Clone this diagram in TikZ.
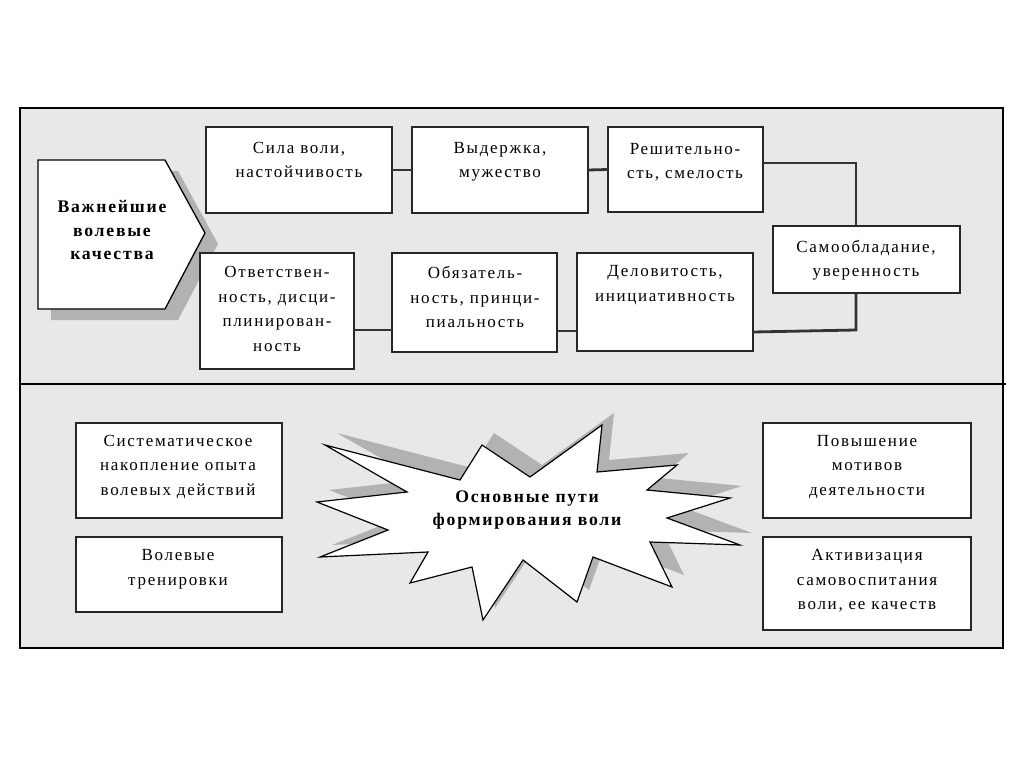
\documentclass[tikz,border=0pt]{standalone}
\usepackage{fontspec}
\setmainfont{Liberation Serif}[LetterSpace=10]
\begin{document}
\begin{tikzpicture}[x=1pt,y=-1pt,
  box/.style={draw=black!85, line width=1.4pt, fill=white, inner sep=0pt, outer sep=0pt},
  txt/.style={align=center, inner sep=0pt, font=\fontsize{17}{24.5}\selectfont},
  btxt/.style={align=center, inner sep=0pt, font=\fontsize{17.7}{23.5}\selectfont\bfseries},
  link/.style={draw=black!80, line width=2.8pt},
  shade/.style={fill=black!30}]
\useasboundingbox (0,0) rectangle (1024,767);
\fill[white] (0,0) rectangle (1024,767);
% panel
\draw[line width=1.6pt, fill=gray!18] (20,108) rectangle (1003,648);
\draw[line width=1.6pt] (20,384) -- (1006,384);

% pentagon arrow
\fill[shade, shift={(13,11)}] (38,160) -- (165,160) -- (205,233) -- (165,309) -- (38,309) -- cycle;
\draw[line width=1.3pt, fill=white] (38,160) -- (165,160) -- (205,233) -- (165,309) -- (38,309) -- cycle;
\node[btxt] (p) at (112,230) {Важнейшие\\волевые\\качества};

% top boxes
\node[box, minimum width=186pt, minimum height=86pt] (s1) at (299,170) {};
\node[box, minimum width=176pt, minimum height=86pt] (s2) at (500,170) {};
\node[box, minimum width=155pt, minimum height=85pt] (s3) at (685.5,169.5) {};
\node[box, minimum width=187pt, minimum height=67pt] (s4) at (866.5,259.5) {};
\node[box, minimum width=176pt, minimum height=98pt] (s5) at (665,302) {};
\node[box, minimum width=165pt, minimum height=99pt] (s6) at (474.5,302.5) {};
\node[box, minimum width=154pt, minimum height=116pt] (s7) at (277,311) {};

\node[txt] (t1) at (299,160) {Сила воли,\\настойчивость};
\node[txt] (t2) at (500,162) {Выдержка,\\мужество};
\node[txt] (t3) at (685,162) {Решительно-\\сть, смелость};
\node[txt] (t4) at (866,260) {Самообладание,\\уверенность};
\node[txt] (t5) at (665,285) {Деловитость,\\инициативность};
\node[txt] (t6) at (475,297) {Обязатель-\\ность, принци-\\пиальность};
\node[txt] (t7) at (277,309) {Ответствен-\\ность, дисци-\\плинирован-\\ность};

% connectors
\draw[link] (s1.east) -- (s2.west);
\draw[link] (s2.east) -- (s3.west);
\coordinate (c1) at (856,163);
\draw[link] ([yshift=6.5pt]s3.east) -- (c1) -- ([xshift=-10.5pt]s4.north);
\coordinate (c2) at (856,330);
\draw[link] ([xshift=-10.5pt]s4.south) -- (c2) -- ([yshift=-30pt]s5.east);
\draw[link] ([yshift=-29pt]s5.west) -- ([yshift=-28.5pt]s6.east);
\draw[link] ([yshift=-27.5pt]s6.west) -- ([yshift=-19pt]s7.east);

% bottom boxes
\node[box, minimum width=206pt, minimum height=95pt] (b1) at (179,470.5) {};
\node[box, minimum width=206pt, minimum height=75pt] (b2) at (179,574.5) {};
\node[box, minimum width=208pt, minimum height=95pt] (b3) at (867,470.5) {};
\node[box, minimum width=208pt, minimum height=93pt] (b4) at (867,583.5) {};
\node[txt] (u1) at (178,467) {Систематическое\\накопление опыта\\волевых действий};
\node[txt] (u2) at (178,569) {Волевые\\тренировки};
\node[txt] (u3) at (867,467) {Повышение\\мотивов\\деятельности};
\node[txt] (u4) at (867,581) {Активизация\\самовоспитания\\воли, ее качеств};

% star
\def\starpath{(325,445) -- (460,480) -- (482,445) -- (530,477) -- (602,425) -- (597,472) -- (677,465) -- (647,490) -- (730,498) -- (667,518) -- (740,545) -- (650,542) -- (672,587) -- (593,557) -- (577,602) -- (523,560) -- (483,620) -- (472,567) -- (410,583) -- (428,552) -- (320,557) -- (388,530) -- (317,502) -- (407,492) -- cycle}
\fill[shade, shift={(12,-12)}] \starpath;
\draw[line width=1.2pt, fill=white] \starpath;
\node[btxt] (st) at (527,510) {Основные пути\\формирования воли};
\end{tikzpicture}
\end{document}
